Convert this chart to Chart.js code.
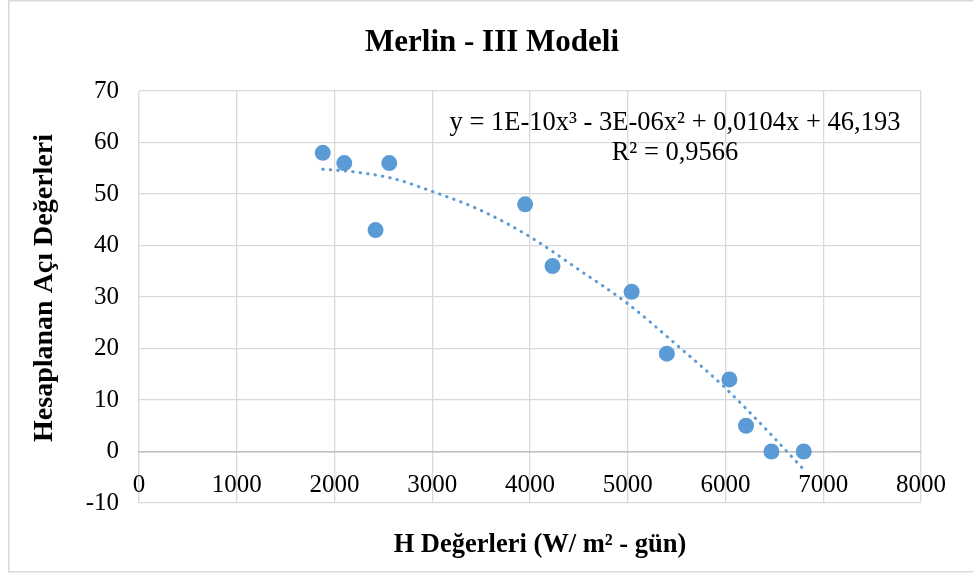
<!DOCTYPE html>
<html>
<head>
<meta charset="utf-8">
<script src="https://cdn.jsdelivr.net/npm/chart.js@4/dist/chart.umd.min.js"></script>
<style>
  html, body { margin: 0; padding: 0; background: #fff; }
  #wrap { width: 973px; height: 574px; position: relative; }
</style>
</head>
<body>
<div id="wrap"><canvas id="mainChart" width="973" height="574"></canvas></div>
<script>
// measured points (H value, calculated angle)
const hValues = [1880, 2100, 2420, 2560, 3950, 4230, 5040, 5400, 6040, 6210, 6470, 6800];
const angleValues = [58, 56, 43, 56, 48, 36, 31, 19, 14, 5, 0, 0];

// dotted polynomial trendline
const trendX = [1880, 2200, 2600, 3000, 3500, 4000, 4500, 5000, 5500, 6000, 6400, 6800];
const trendY = [54.8, 54.3, 53.0, 50.5, 46.8, 41.7, 35.3, 28.7, 20.7, 12.3, 4.6, -3.5];

const xTicks = [0, 1000, 2000, 3000, 4000, 5000, 6000, 7000, 8000];
const yTicks = [-10, 0, 10, 20, 30, 40, 50, 60, 70];

const chartTitle = 'Merlin - III Modeli';
const xTitle = 'H Değerleri (W/ m² - gün)';
const yTitle = 'Hesaplanan Açı Değerleri';
const eqLine1 = 'y = 1E-10x³ - 3E-06x² + 0,0104x + 46,193';
const eqLine2 = 'R² = 0,9566';

const serif = '"Liberation Serif", "Times New Roman", serif';
const blue = '#5b9bd5';

var points = hValues.map(function(h, i) { return { x: h, y: angleValues[i] }; });
var trend = trendX.map(function(h, i) { return { x: h, y: trendY[i] }; });

// titles, equation and outer frame
var decorations = {
  id: 'decorations',
  afterDraw: function(chart) {
    var c = chart.ctx;
    c.save();
    c.strokeStyle = '#d9d9d9';
    c.lineWidth = 1.5;
    c.strokeRect(8.75, 0.75, 980, 571);

    c.fillStyle = '#000';
    c.textAlign = 'center';
    c.textBaseline = 'alphabetic';
    c.font = 'bold 31px ' + serif;
    c.fillText(chartTitle, 492, 51);

    c.font = '26.5px ' + serif;
    c.fillText(eqLine1, 675, 130);
    c.fillText(eqLine2, 675, 160);

    c.textBaseline = 'middle';
    c.font = 'bold 26.5px ' + serif;
    c.fillText(xTitle, 540, 545);
    c.font = 'bold 28px ' + serif;
    c.translate(45, 288);
    c.rotate(-Math.PI / 2);
    c.fillText(yTitle, 0, 0);
    c.restore();
  }
};

var ctx = document.getElementById('mainChart').getContext('2d');
var chart = new Chart(ctx, {
  type: 'scatter',
  data: {
    datasets: [
      {
        label: 'trend', data: trend, showLine: true,
        borderColor: blue, borderWidth: 3, borderDash: [0.5, 7], borderCapStyle: 'round',
        cubicInterpolationMode: 'monotone', pointRadius: 0, fill: false, order: 0
      },
      {
        label: 'H', data: points,
        backgroundColor: blue, borderColor: blue, borderWidth: 0,
        pointRadius: 8, order: 1
      }
    ]
  },
  options: {
    responsive: false, animation: false,
    layout: { padding: { left: 0, top: 91, right: 52, bottom: 71 } },
    plugins: { legend: { display: false }, tooltip: { enabled: false }, title: { display: false } },
    scales: {
      x: {
        type: 'linear', min: 0, max: 8000,
        position: { y: 0 },
        afterBuildTicks: function(s) { s.ticks = xTicks.map(function(v) { return { value: v }; }); },
        grid: { color: '#d9d9d9', lineWidth: 1.3, drawTicks: false },
        border: { display: true, color: '#bfbfbf', width: 1.5 },
        ticks: {
          color: '#000', font: { family: serif, size: 25 }, padding: 19, maxRotation: 0, autoSkip: false,
          callback: function(v) { return String(v); }
        }
      },
      y: {
        type: 'linear', min: -10, max: 70, position: 'left',
        afterBuildTicks: function(s) { s.ticks = yTicks.map(function(v) { return { value: v }; }); },
        afterFit: function(s) { s.width = 139; },
        grid: { color: '#d9d9d9', lineWidth: 1.3, drawTicks: false },
        border: { display: false },
        ticks: {
          color: '#000', font: { family: serif, size: 25 }, padding: 20,
          callback: function(v) { return String(v); }
        }
      }
    }
  },
  plugins: [decorations]
});
</script>
</body>
</html>
